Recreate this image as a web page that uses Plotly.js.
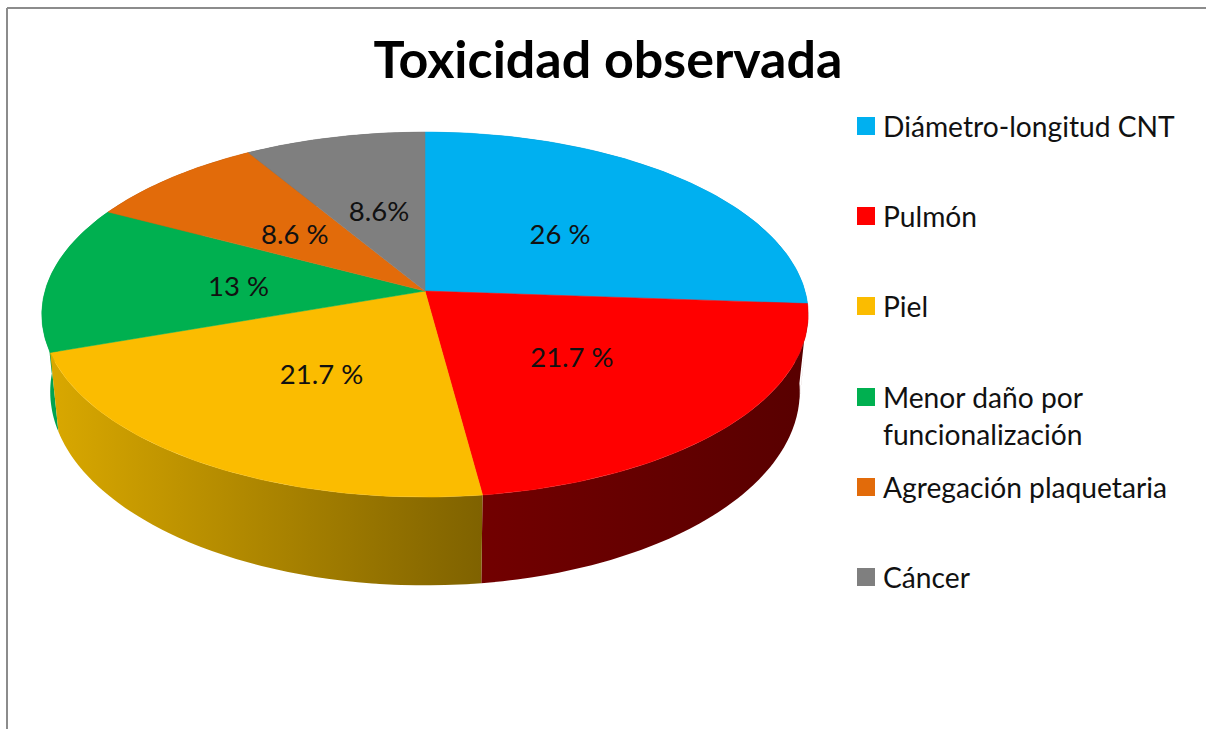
<!DOCTYPE html>
<html>
<head>
<meta charset="utf-8">
<script src="https://cdn.plot.ly/plotly-3.0.1.min.js"></script>
<style>
  html, body { margin: 0; padding: 0; background: #fff; overflow: hidden; }
  #chart { width: 1206px; height: 729px; }
</style>
</head>
<body>
<div id="chart"></div>
<script>
/* Toxicidad observada: tilted 3D pie, Plotly has no such trace so wedges are filled scatters */
const categories = ["Diámetro-longitud CNT", "Pulmón", "Piel", "Menor daño por funcionalización", "Agregación plaquetaria", "Cáncer"];
const legendLabels = ["Diámetro-longitud CNT", "Pulmón", "Piel", "Menor daño por<br>funcionalización", "Agregación plaquetaria", "Cáncer"];
const values = [26, 21.7, 21.7, 13, 8.6, 8.6];
const valueLabels = ["26 %", "21.7 %", "21.7 %", "13 %", "8.6 %", "8.6%"];

const topColors = ["#00b0f0", "#ff0000", "#fbbc00", "#00b050", "#e26b0a", "#7f7f7f"];
const sideFrom = ["#0085b5", "#720000", "#d9a800", "#00a350", "#a84f06", "#5f5f5f"];
const sideTo = ["#0085b5", "#580000", "#7f6200", "#00a350", "#a84f06", "#5f5f5f"];

const FONT = "Lato, 'Open Sans', sans-serif";

// perspective of the disc, in plot units
const CX = 425, CY = 291, R = 380, F = 179.5, K = 0.129;
const LABEL_DY = 5, LABEL_DX = 2;
const topPt = (u, v, r) => {
  const d = 1 - K * v * r;
  return [CX + R * u * r / d, CY + F * v * r / d];
};
const bottomPt = (u, v) => {
  const p = topPt(u, v, 1);
  return [CX + (p[0] - CX) * 0.978, CY + 75.5 + (p[1] - CY) * 1.062];
};
const unit = f => [Math.sin(f * 2 * Math.PI), -Math.cos(f * 2 * Math.PI)];

const total = values.reduce((a, b) => a + b, 0);
let acc = 0;
const slices = values.map((val, i) => {
  const from = acc / total;
  acc += val;
  return { i, from, to: acc / total, mid: (from + val / total / 2) };
});

function arc(s, fn) {
  const pts = [];
  for (let k = 0; k <= 80; k++) {
    const [u, v] = unit(s.from + (s.to - s.from) * k / 80);
    pts.push(fn(u, v));
  }
  return pts;
}

// side walls: back to front, so the nearest one is painted last.
// overlapping quads, not one polygon, so the silhouette between the rims gets filled too
const sideTraces = slices.slice().sort((a, b) => unit(a.mid)[1] - unit(b.mid)[1]).map(s => {
  const upper = arc(s, (u, v) => topPt(u, v, 1));
  const lower = arc(s, bottomPt);
  const xs = [], ys = [];
  for (let k = 0; k + 2 < upper.length; k++) {
    [upper[k], upper[k + 2], lower[k + 2], lower[k], upper[k]].forEach(p => { xs.push(p[0]); ys.push(p[1]); });
    xs.push(null); ys.push(null);
  }
  xs.pop(); ys.pop();
  const known = xs.filter(x => x !== null);
  return {
    type: "scatter", mode: "lines", fill: "toself",
    x: xs, y: ys,
    line: { width: 0, color: sideFrom[s.i] },
    fillgradient: {
      type: "horizontal",
      colorscale: [[0, sideFrom[s.i]], [1, sideTo[s.i]]],
      start: Math.min(...known), stop: Math.max(...known),
    },
    hoverinfo: "skip", showlegend: false,
  };
});

const topTraces = slices.map(s => {
  const pts = [[CX, CY]].concat(arc(s, (u, v) => topPt(u, v, 1)));
  pts.push([CX, CY]);
  return {
    type: "scatter", mode: "lines", fill: "toself", name: categories[s.i],
    x: pts.map(p => p[0]), y: pts.map(p => p[1]),
    fillcolor: topColors[s.i],
    line: { width: 0.5, color: topColors[s.i] },
    hoverinfo: "skip", showlegend: false,
  };
});

const labelPts = slices.map(s => { const [u, v] = unit(s.mid); return topPt(u, v, 0.5); });
const labelTrace = {
  type: "scatter", mode: "text",
  x: labelPts.map(p => p[0] + LABEL_DX), y: labelPts.map(p => p[1] + LABEL_DY),
  text: valueLabels, textposition: "middle center",
  textfont: { family: FONT, size: 27.5, color: "#111" },
  hoverinfo: "skip", showlegend: false,
};

// legend is laid out by hand: the reference keeps even rows despite the wrapped entry
const LEGEND_Y = [126, 216, 306, 397, 487, 577];
const legendSwatches = {
  type: "scatter", mode: "markers",
  x: LEGEND_Y.map(() => 866), y: LEGEND_Y,
  marker: { symbol: "square", size: 18, color: topColors },
  hoverinfo: "skip", showlegend: false,
};
const legendText = legendLabels.map((t, i) => ({
  x: 881, y: LEGEND_Y[i] - 19, xref: "x", yref: "y",
  xanchor: "left", yanchor: "top", align: "left", showarrow: false,
  text: t, font: { family: FONT, size: 28.2, color: "#111" },
}));

const layout = {
  width: 1206, height: 729,
  margin: { l: 0, r: 0, t: 0, b: 0 },
  paper_bgcolor: "#fff", plot_bgcolor: "#fff",
  title: {
    text: "Toxicidad observada",
    font: { family: FONT, size: 52, color: "#000", weight: 700 },
    x: 608 / 1206, xanchor: "center", y: 1 - 60 / 729, yanchor: "middle",
  },
  xaxis: { range: [0, 1206], visible: false, fixedrange: true },
  yaxis: { range: [729, 0], visible: false, fixedrange: true },
  annotations: legendText,
  shapes: [
    { type: "line", xref: "x", yref: "y", x0: 7, x1: 1206, y0: 8, y1: 8, line: { color: "#8c8c8c", width: 2 } },
    { type: "line", xref: "x", yref: "y", x0: 7, x1: 7, y0: 8, y1: 729, line: { color: "#8c8c8c", width: 2 } },
  ],
};

Plotly.newPlot("chart", sideTraces.concat(topTraces, [labelTrace, legendSwatches]), layout, { displayModeBar: false, staticPlot: true });
</script>
</body>
</html>
